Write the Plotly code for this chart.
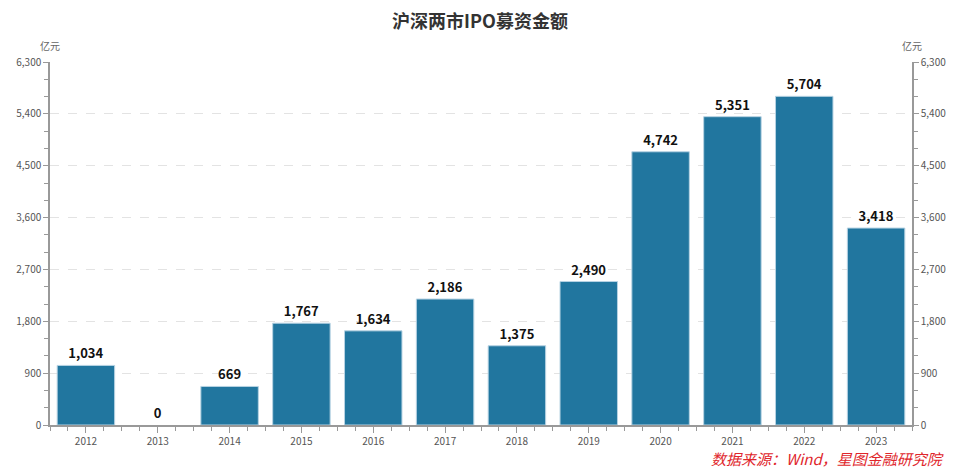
import plotly.graph_objects as go

years = ["2012", "2013", "2014", "2015", "2016", "2017", "2018", "2019", "2020", "2021", "2022", "2023"]
ipo_amount = [1034, 0, 669, 1767, 1634, 2186, 1375, 2490, 4742, 5351, 5704, 3418]
y_ticks = [0, 900, 1800, 2700, 3600, 4500, 5400, 6300]

xpos = list(range(len(years)))
font_fam = "Noto Sans CJK SC, Noto Sans, sans-serif"

fig = go.Figure()
fig.add_trace(go.Bar(
    x=xpos, y=ipo_amount, width=0.8,
    marker=dict(color="#21769f",
                line=dict(color="#b7d3e3", width=[1 if v > 0 else 0 for v in ipo_amount])),
    text=[f"{v:,}" for v in ipo_amount], texttemplate="<b>%{text}</b>", textposition="outside",
    textfont=dict(size=13, color="#111111", family=font_fam),
    cliponaxis=False, showlegend=False, hoverinfo="skip",
))
fig.add_trace(go.Scatter(x=xpos, y=ipo_amount, yaxis="y2", mode="markers",
                         marker=dict(opacity=0), showlegend=False, hoverinfo="skip"))

axis_common = dict(
    range=[0, 6300], tickvals=y_ticks, ticktext=[f"{v:,}" for v in y_ticks],
    showline=True, linecolor="#999999", linewidth=1.5,
    ticks="outside", ticklen=5, tickcolor="#999999",
    minor=dict(dtick=300, tick0=0, ticks="outside", ticklen=4, tickcolor="#999999", showgrid=False),
    tickfont=dict(size=10, color="#555555", family=font_fam),
    zeroline=False, fixedrange=True, automargin=False,
)

fig.update_layout(
    width=944, height=460,
    margin=dict(l=42, r=40, t=54, b=43, autoexpand=False),
    plot_bgcolor="white", paper_bgcolor="white",
    bargap=0.2,
    title=dict(text="<b>沪深两市IPO募资金额</b>", x=0.5, xanchor="center", y=0.9705, yanchor="middle",
               font=dict(size=18, color="#333333", family=font_fam), automargin=False),
    xaxis=dict(
        range=[-0.5, 11.5], tickvals=xpos, ticktext=years,
        showline=True, linecolor="#999999", linewidth=1.5,
        ticks="outside", ticklen=6, tickcolor="#999999",
        minor=dict(dtick=0.25, tick0=-0.5, ticks="outside", ticklen=4, tickcolor="#999999", showgrid=False),
        tickfont=dict(size=10, color="#555555", family=font_fam),
        showgrid=False, zeroline=False, automargin=False,
    ),
    yaxis=dict(**axis_common, showgrid=True, gridcolor="#e3e3e3", griddash="dash", gridwidth=1),
    yaxis2=dict(**axis_common, overlaying="y", side="right", showgrid=False),
    annotations=[
        dict(text="亿元", xref="paper", yref="paper", x=0, y=1, xanchor="center", yanchor="bottom",
             yshift=7, showarrow=False, font=dict(size=10, color="#666666", family=font_fam)),
        dict(text="亿元", xref="paper", yref="paper", x=1, y=1, xanchor="center", yanchor="bottom",
             yshift=7, showarrow=False, font=dict(size=10, color="#666666", family=font_fam)),
        dict(text="<i>数据来源：Wind，星图金融研究院</i>", xref="paper", yref="paper", x=1, y=0,
             xanchor="right", yanchor="middle", xshift=34, yshift=-33, showarrow=False,
             font=dict(size=15, color="#e0262b", family=font_fam)),
    ],
)

fig.write_html("out.html")
